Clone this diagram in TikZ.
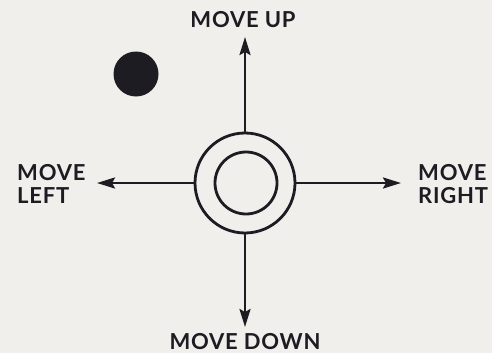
\documentclass[tikz,border=0pt]{standalone}
\usepackage{fontspec}
\setmainfont{Lato}[LetterSpace=3.5]
\usepackage{xcolor}
\usepackage{tikz}
\usetikzlibrary{arrows.meta}
\definecolor{paper}{RGB}{241,239,235}
\definecolor{ink}{RGB}{28,28,34}

\begin{document}
\begin{tikzpicture}[x=1pt,y=-1pt,>={Stealth[length=18pt,width=11pt,inset=3pt]},
lbl/.style={font=\bfseries\fontsize{22}{23}\selectfont,text=ink,inner sep=0pt,align=left},
ring/.style={circle,draw=ink,line width=2.8pt,inner sep=0pt},
arm/.style={->,ink,line width=2.6pt}]
\fill[paper](0,0)rectangle(492,353);
\useasboundingbox(0,0)rectangle(492,353);
\node[ring,minimum size=100pt](outer) at (245,183){};
\node[ring,minimum size=62pt](inner) at (246,183){};
\fill[ink](136,74)circle(22.5);
\coordinate(up) at (245,37);
\coordinate(down) at (245,327);
\coordinate(left) at (97,183);
\coordinate(right) at (401,183);
\draw[arm](outer.north)--(up);
\draw[arm](outer.south)--(down);
\draw[arm](outer.west)--(left);
\draw[arm](outer.east)--(right);
\node[lbl,anchor=base](lup) at (243,28){MOVE UP};
\node[lbl,anchor=base](ldown) at (245,349){MOVE DOWN};
\node[lbl,anchor=west](lleft) at (17,184){MOVE\\LEFT};
\node[lbl,anchor=west](lright) at (418,184){MOVE\\RIGHT};
\end{tikzpicture}
\end{document}
